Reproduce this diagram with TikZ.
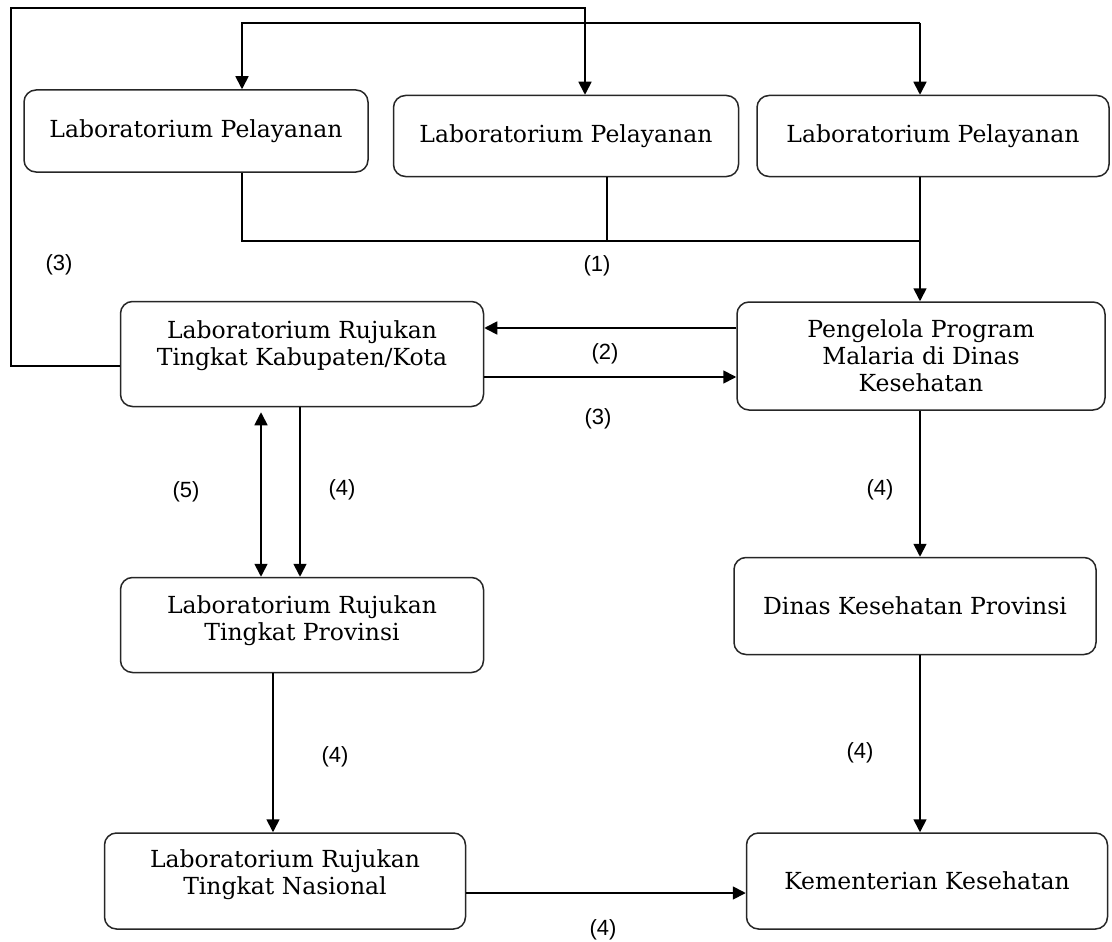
\documentclass[tikz,border=0pt]{standalone}
\usepackage{fontspec}
\setmainfont{DejaVu Serif}
\newfontfamily\labelfont{Liberation Sans}
\usetikzlibrary{arrows.meta}

\begin{document}
\begin{tikzpicture}[x=1pt,y=-1pt,
    box/.style={draw=black!85, line width=1.5pt, rounded corners=12pt, align=center, inner sep=0pt, font=\fontsize{23.5}{27}\selectfont},
    lbl/.style={font=\labelfont\fontsize{22}{22}\selectfont},
    line/.style={line width=1.7pt},
    arr/.style={line width=1.7pt, -{Triangle[length=13pt,width=13pt]}},
    darr/.style={line width=1.7pt, {Triangle[length=13pt,width=13pt]}-{Triangle[length=13pt,width=13pt]}}]
    \useasboundingbox (0,0) rectangle (1112,942);

    % boxes
    \node[box, minimum width=344pt, minimum height=82pt] at (196,131) (LP1) {Laboratorium Pelayanan};
    \node[box, minimum width=345pt, minimum height=81pt] at (566,136) (LP2) {Laboratorium Pelayanan};
    \node[box, minimum width=352pt, minimum height=81pt] at (933,136) (LP3) {Laboratorium Pelayanan};
    \node[box, minimum width=363pt, minimum height=105pt, text depth=22pt] at (302,354) (RKK) {Laboratorium Rujukan\\Tingkat Kabupaten/Kota};
    \node[box, minimum width=368pt, minimum height=108pt] at (921,356) (PPM) {Pengelola Program\\Malaria di Dinas\\Kesehatan};
    \node[box, minimum width=363pt, minimum height=95pt, text depth=13pt] at (302,625) (RP) {Laboratorium Rujukan\\Tingkat Provinsi};
    \node[box, minimum width=362pt, minimum height=97pt] at (915,606) (DKP) {Dinas Kesehatan Provinsi};
    \node[box, minimum width=361pt, minimum height=96pt, text depth=17pt] at (285,881) (RN) {Laboratorium Rujukan\\Tingkat Nasional};
    \node[box, minimum width=361pt, minimum height=96pt] at (927,881) (KK) {Kementerian Kesehatan};

    % bends
    \coordinate (O1) at (11,8);
    \coordinate (O2) at (585,8);
    \coordinate (K1) at (11,366);
    \coordinate (T1) at (242,23);
    \coordinate (T3) at (920,23);
    \coordinate (B1) at (242,241);
    \coordinate (B2) at (607,241);
    \coordinate (B3) at (920,241);
    \coordinate (M2) at (0,328);
    \coordinate (M3) at (0,377);
    \coordinate (V5) at (261,0);
    \coordinate (V4) at (300,0);
    \coordinate (V6) at (273,0);
    \coordinate (H4) at (0,893);

    \draw[arr] (RKK.west |- K1) -- (K1) -- (O1) -- (O2) -- (LP2.north -| O2);
    \draw[arr] (T3) -- (T1) -- (LP1.north -| T1);
    \draw[arr] (T3) -- (LP3.north -| T3);
    \draw[line] (LP1.south -| B1) -- (B1) -- (B3);
    \draw[line] (LP2.south -| B2) -- (B2);
    \draw[arr] (LP3.south -| B3) -- (PPM.north -| B3);
    \draw[arr] (PPM.west |- M2) -- (RKK.east |- M2);
    \draw[arr] (RKK.east |- M3) -- (PPM.west |- M3);
    \draw[darr, shorten <=5pt] (RKK.south -| V5) -- (RP.north -| V5);
    \draw[arr] (RKK.south -| V4) -- (RP.north -| V4);
    \draw[arr] (RP.south -| V6) -- (RN.north -| V6);
    \draw[arr] (PPM.south -| B3) -- (DKP.north -| B3);
    \draw[arr] (DKP.south -| B3) -- (KK.north -| B3);
    \draw[arr] (RN.east |- H4) -- (KK.west |- H4);

    % labels
    \node[lbl] at (59,265) (L3a) {(3)};
    \node[lbl] at (597,266) (L1) {(1)};
    \node[lbl] at (605,354) (L2) {(2)};
    \node[lbl] at (598,419) (L3b) {(3)};
    \node[lbl] at (186,492) (L5) {(5)};
    \node[lbl] at (342,490) (L4a) {(4)};
    \node[lbl] at (880,490) (L4b) {(4)};
    \node[lbl] at (335,757) (L4c) {(4)};
    \node[lbl] at (860,753) (L4d) {(4)};
    \node[lbl] at (603,930) (L4e) {(4)};
\end{tikzpicture}
\end{document}
